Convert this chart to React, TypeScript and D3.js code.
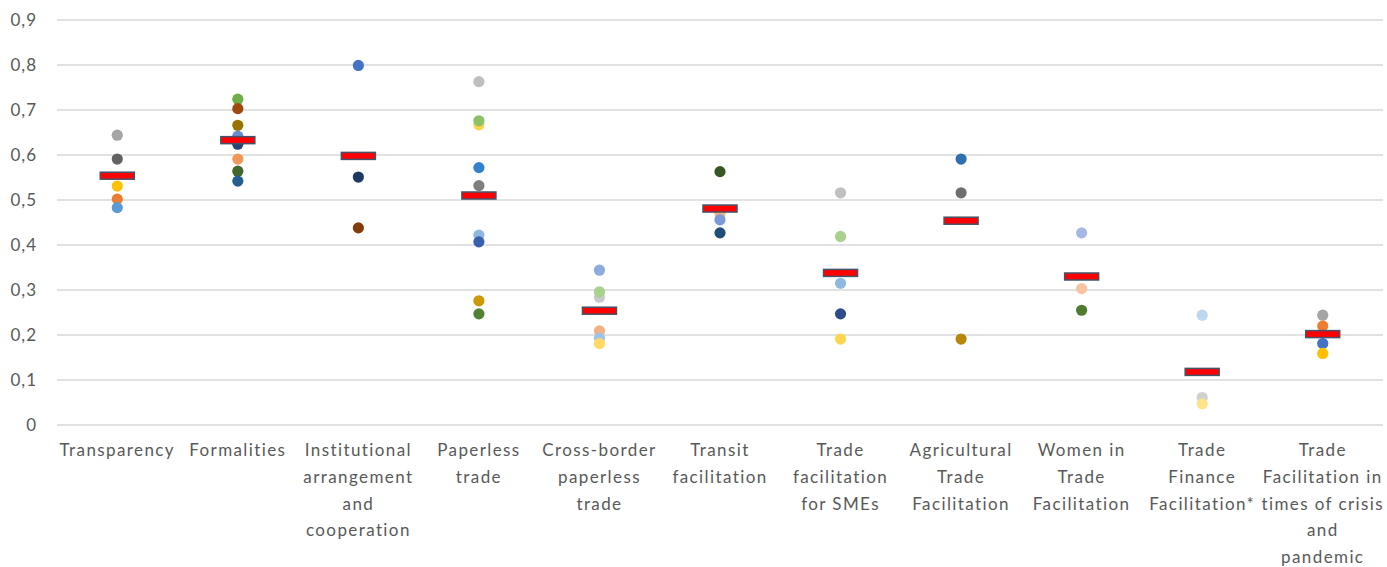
import React from "react";
import * as d3 from "d3";

const categories = [
  "Transparency",
  "Formalities",
  "Institutional arrangement and cooperation",
  "Paperless trade",
  "Cross-border paperless trade",
  "Transit facilitation",
  "Trade facilitation for SMEs",
  "Agricultural Trade Facilitation",
  "Women in Trade Facilitation",
  "Trade Finance Facilitation*",
  "Trade Facilitation in times of crisis and pandemic",
];

const labelLines = [
  ["Transparency"],
  ["Formalities"],
  ["Institutional", "arrangement", "and", "cooperation"],
  ["Paperless", "trade"],
  ["Cross-border", "paperless", "trade"],
  ["Transit", "facilitation"],
  ["Trade", "facilitation", "for SMEs"],
  ["Agricultural", "Trade", "Facilitation"],
  ["Women in", "Trade", "Facilitation"],
  ["Trade", "Finance", "Facilitation*"],
  ["Trade", "Facilitation in", "times of crisis", "and", "pandemic"],
];

// individual scores per category
const pointValues = [
  [0.644, 0.591, 0.531, 0.502, 0.483],
  [0.724, 0.703, 0.666, 0.642, 0.624, 0.591, 0.564, 0.542],
  [0.799, 0.551, 0.438],
  [0.763, 0.667, 0.676, 0.572, 0.532, 0.422, 0.407, 0.276, 0.247],
  [0.344, 0.284, 0.296, 0.209, 0.193, 0.181],
  [0.563, 0.47, 0.456, 0.427],
  [0.516, 0.419, 0.315, 0.247, 0.191],
  [0.591, 0.516, 0.191],
  [0.427, 0.303, 0.255],
  [0.244, 0.061, 0.047],
  [0.244, 0.22, 0.181, 0.159],
];

const pointColors = [
  ["#A5A5A5", "#636363", "#FFC000", "#ED7D31", "#5B9BD5"],
  ["#70AD47", "#9E480E", "#997300", "#698ED0", "#264478", "#F1975A", "#43682B", "#255E91"],
  ["#4472C4", "#203864", "#843C0C"],
  ["#BFBFBF", "#FFD24D", "#8CC168", "#3381CC", "#7F7F7F", "#8DB8E2", "#3A5FAD", "#CC9A06", "#548235"],
  ["#8FAADC", "#C9C9C9", "#A9D18E", "#F4B183", "#9DC3E6", "#FFD966"],
  ["#375623", "#F4B183", "#7A9BD8", "#1F4E79"],
  ["#C0C0C0", "#A9D18E", "#8FB8E2", "#2F4B8A", "#FFD54F"],
  ["#2E6FB0", "#6F6F6F", "#B8860B"],
  ["#A5B8E3", "#F7C4A2", "#4E7D2F"],
  ["#BDD7EE", "#D0D0D0", "#FFE38A"],
  ["#A5A5A5", "#ED7D31", "#4472C4", "#FFC000"],
];

const meanValues = [0.554, 0.633, 0.598, 0.51, 0.254, 0.481, 0.338, 0.454, 0.33, 0.118, 0.202];

const yTicks = [0, 0.1, 0.2, 0.3, 0.4, 0.5, 0.6, 0.7, 0.8, 0.9];

const W = 1387;
const H = 567;
const FONT = "Lato, 'Noto Sans', sans-serif";

export default function App() {
  const x = d3.scaleBand<string>().domain(categories).range([57, 1383]);
  const y = d3.scaleLinear().domain([0, 0.9]).range([425, 20]);
  const fmt = (v: number) => (v === 0 ? "0" : d3.format(".1f")(v).replace(".", ","));
  const cx = (c: string) => (x(c) ?? 0) + x.bandwidth() / 2;

  return (
    <div style={{ position: "fixed", left: 0, top: 0 }}>
      <svg width={W} height={H} style={{ display: "block", background: "#fff" }}>
        <g className="grid">
          {yTicks.map((t) => (
            <g key={t}>
              <line x1={57} x2={1383} y1={y(t)} y2={y(t)} stroke="#D9D9D9" strokeWidth={1.3} />
              <text
                x={37}
                y={y(t)}
                dy="0.35em"
                textAnchor="end"
                fontFamily={FONT}
                fontSize={17}
                letterSpacing={1}
                fill="#595959"
              >
                {fmt(t)}
              </text>
            </g>
          ))}
        </g>
        <g className="points">
          {categories.map((c, i) =>
            pointValues[i].map((v, j) => (
              <circle key={c + j} cx={cx(c)} cy={y(v)} r={5.6} fill={pointColors[i][j]} />
            ))
          )}
        </g>
        <g className="means">
          {categories.map((c, i) => (
            <rect
              key={c}
              x={cx(c) - 17}
              y={y(meanValues[i]) - 3.5}
              width={34}
              height={7}
              fill="#FF0000"
              stroke="#44546A"
              strokeWidth={1.5}
            />
          ))}
        </g>
        <g className="x-labels">
          {categories.map((c, i) => (
            <text
              key={c}
              textAnchor="middle"
              fontFamily={FONT}
              fontSize={17}
              letterSpacing={1.4}
              fill="#595959"
            >
              {labelLines[i].map((l, k) => (
                <tspan key={k} x={cx(c)} y={450 + k * 26.8} dy="0.35em">
                  {l}
                </tspan>
              ))}
            </text>
          ))}
        </g>
      </svg>
    </div>
  );
}
